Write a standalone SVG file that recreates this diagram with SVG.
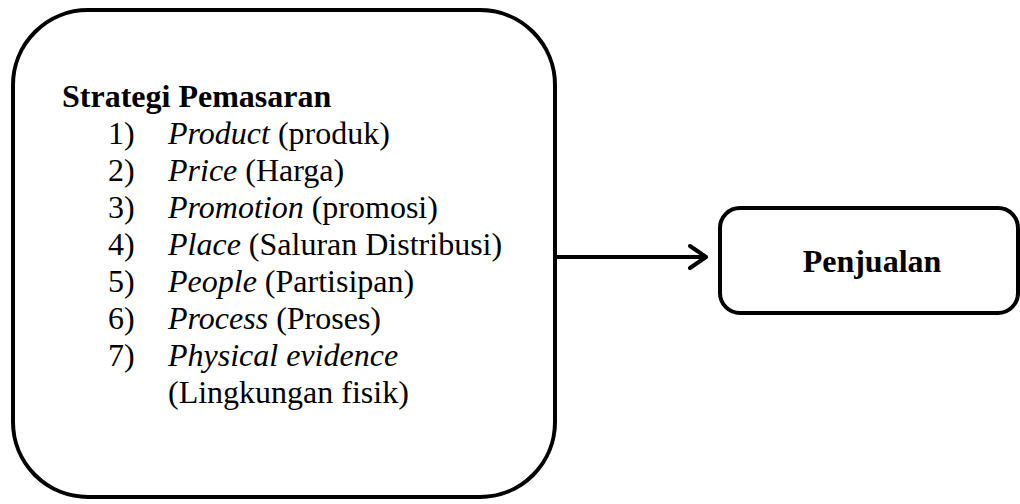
<svg xmlns="http://www.w3.org/2000/svg" width="1020" height="504" viewBox="0 0 1020 504">
<style>
.box{fill:#fff;stroke:#000;stroke-width:4}
.t{font-family:'Liberation Serif','Times New Roman',Times,serif;font-size:32px;fill:#000}
.b{font-weight:bold}
.i{font-style:italic}
.conn{fill:none;stroke:#000;stroke-width:4;stroke-linecap:round;stroke-linejoin:round}
</style>
<rect width="1020" height="504" fill="#fff"/>
<g id="strategi">
<rect class="box" x="13" y="10" width="542" height="487" rx="75" ry="75"/>
<text class="t b" x="62" y="107">Strategi Pemasaran</text>
<text class="t" x="108" y="144">1)</text><text class="t" x="168" y="144"><tspan class="i">Product</tspan> (produk)</text>
<text class="t" x="108" y="181">2)</text><text class="t" x="168" y="181"><tspan class="i">Price</tspan> (Harga)</text>
<text class="t" x="108" y="218">3)</text><text class="t" x="168" y="218"><tspan class="i">Promotion</tspan> (promosi)</text>
<text class="t" x="108" y="255">4)</text><text class="t" x="168" y="255"><tspan class="i">Place</tspan> (Saluran Distribusi)</text>
<text class="t" x="108" y="292">5)</text><text class="t" x="168" y="292"><tspan class="i">People</tspan> (Partisipan)</text>
<text class="t" x="108" y="329">6)</text><text class="t" x="168" y="329"><tspan class="i">Process</tspan> (Proses)</text>
<text class="t" x="108" y="366">7)</text><text class="t i" x="168" y="366">Physical evidence</text>
<text class="t" x="168" y="403">(Lingkungan fisik)</text>
</g>
<g id="penjualan">
<rect class="box" x="720" y="208" width="298" height="105" rx="20" ry="20"/>
<text class="t b" x="872" y="272" text-anchor="middle">Penjualan</text>
</g>
<g id="connectors">
<line class="conn" x1="555" y1="257" x2="705" y2="257"/>
<polyline class="conn" points="690,246 706,257 690,268"/>
</g>
</svg>
